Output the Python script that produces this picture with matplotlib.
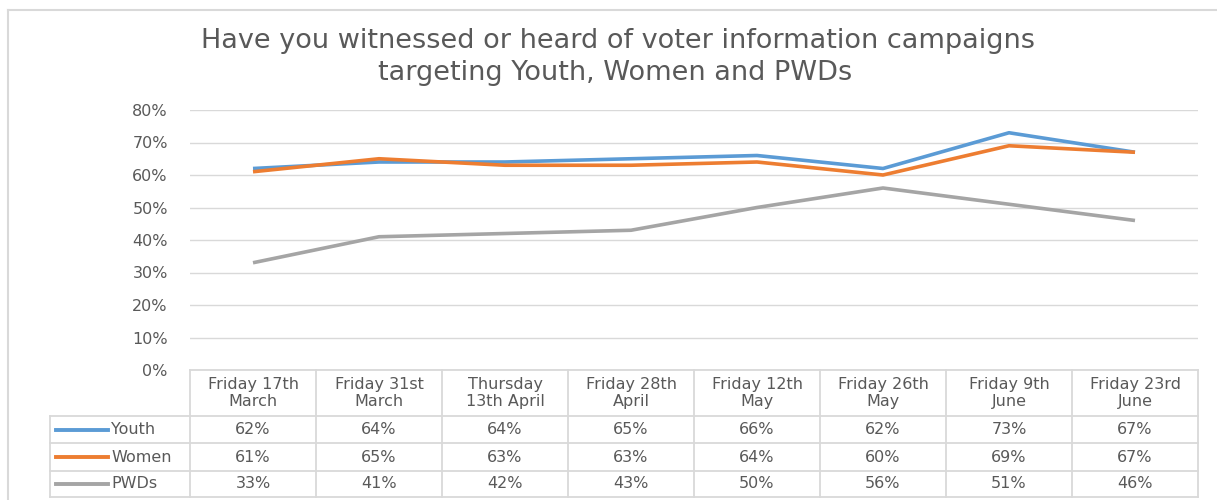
import matplotlib
matplotlib.use("Agg")
import matplotlib.pyplot as plt
from matplotlib.lines import Line2D
import numpy as np

# ---- data ----
categories = ["Friday 17th\nMarch", "Friday 31st\nMarch", "Thursday\n13th April",
              "Friday 28th\nApril", "Friday 12th\nMay", "Friday 26th\nMay",
              "Friday 9th\nJune", "Friday 23rd\nJune"]
series_names = ["Youth", "Women", "PWDs"]
youth = [62, 64, 64, 65, 66, 62, 73, 67]
women = [61, 65, 63, 63, 64, 60, 69, 67]
pwds = [33, 41, 42, 43, 50, 56, 51, 46]
y_ticks = [0, 10, 20, 30, 40, 50, 60, 70, 80]
title_lines = ["Have you witnessed or heard of voter information campaigns",
               "targeting Youth, Women and PWDs"]

colors = ["#5B9BD5", "#ED7D31", "#A5A5A5"]
series = [youth, women, pwds]
txt_c = "#595959"

W, H = 1217, 500
fig = plt.figure(figsize=(W / 100, H / 100), dpi=100)
fig.patch.set_facecolor("white")

def fx(px):
    return px / W

def fy(py):
    return 1 - py / H

frame_c = "#D9D9D9"
# outer frame (left and top edges visible)
fig.add_artist(Line2D([fx(8), fx(8)], [fy(9.5), fy(H + 5)],
                      transform=fig.transFigure, color=frame_c, linewidth=1.5))
fig.add_artist(Line2D([fx(8), fx(W + 5)], [fy(9.5), fy(9.5)],
                      transform=fig.transFigure, color=frame_c, linewidth=1.5))

# plot area
L, R, T, B = 190, 1198, 110, 370
ax = fig.add_axes([fx(L), fy(B), fx(R) - fx(L), fy(T) - fy(B)])
x = np.arange(len(categories))
for s, c in zip(series, colors):
    ax.plot(x, s, color=c, linewidth=2.6, solid_capstyle="butt", zorder=3)
ax.set_xlim(-0.5, len(categories) - 0.5)
ax.set_ylim(0, 80)
ax.set_yticks(y_ticks)
ax.set_yticklabels([f"{t}%" for t in y_ticks], fontsize=11.5, color=txt_c,
                   family="DejaVu Sans")
ax.tick_params(axis="y", length=0, pad=16)
ax.set_xticks([])
ax.grid(axis="y", color="#D9D9D9", linewidth=1)
for sp in ax.spines.values():
    sp.set_visible(False)
ax.set_facecolor("none")

# title
fig.text(fx(618), fy(41), title_lines[0], ha="center", va="center",
         fontsize=19.5, color=txt_c, family="DejaVu Sans")
fig.text(fx(615), fy(73), title_lines[1], ha="center", va="center",
         fontsize=19.5, color=txt_c, family="DejaVu Sans")

# data table
grid_c = "#D9D9D9"
col_w = (R - L) / len(categories)
rows_y = [370, 416, 443, 471, 497]
LEG_L = 50

def hline(px0, px1, py):
    fig.add_artist(Line2D([fx(px0), fx(px1)], [fy(py), fy(py)],
                          transform=fig.transFigure, color=grid_c, linewidth=1.3))

def vline(px, py0, py1):
    fig.add_artist(Line2D([fx(px), fx(px)], [fy(py0), fy(py1)],
                          transform=fig.transFigure, color=grid_c, linewidth=1.3))

hline(L, R, rows_y[0])
for ry in rows_y[1:]:
    hline(LEG_L, R, ry)
for i in range(len(categories) + 1):
    vline(L + i * col_w, rows_y[0], rows_y[-1])
vline(LEG_L, rows_y[1], rows_y[-1])

tfont = dict(fontsize=11.5, color=txt_c, family="DejaVu Sans")
for i, cat in enumerate(categories):
    cx = L + (i + 0.5) * col_w
    fig.text(fx(cx), fy((rows_y[0] + rows_y[1]) / 2), cat, ha="center",
             va="center", linespacing=1.2, **tfont)
    for r, s in enumerate(series):
        cy = (rows_y[r + 1] + rows_y[r + 2]) / 2
        fig.text(fx(cx), fy(cy), f"{s[i]}%", ha="center", va="center", **tfont)

for r, (name, c) in enumerate(zip(series_names, colors)):
    cy = (rows_y[r + 1] + rows_y[r + 2]) / 2
    fig.add_artist(Line2D([fx(56), fx(108)], [fy(cy), fy(cy)],
                          transform=fig.transFigure, color=c, linewidth=2.8))
    fig.text(fx(111), fy(cy), name, ha="left", va="center", **tfont)

fig.savefig("out.png", dpi=100, facecolor="white")
